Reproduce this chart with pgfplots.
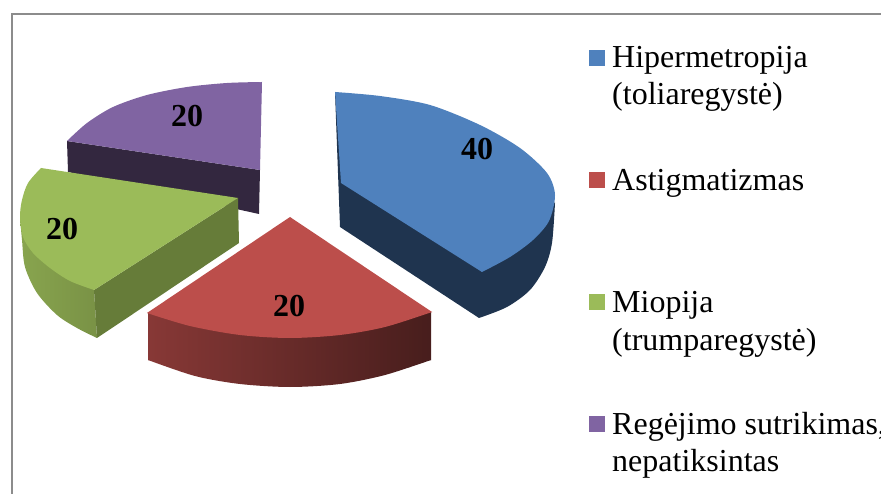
\documentclass[border=0pt]{standalone}
\usepackage{fontspec}
\setmainfont{Liberation Serif}
\usepackage{pgfplots}
\pgfplotsset{compat=1.18}
\definecolor{blueT}{HTML}{4F81BD}
\definecolor{blueS}{HTML}{1F344F}
\definecolor{redT}{HTML}{BC4E4B}
\definecolor{greenT}{HTML}{9BBB59}
\definecolor{greenS}{HTML}{667C39}
\definecolor{purpleT}{HTML}{8064A2}
\definecolor{purpleS}{HTML}{33273F}
\definecolor{framec}{HTML}{8C8C8C}
\newcommand{\lgd}{\fontsize{32}{38}\selectfont}
\newcommand{\val}{\fontsize{32}{32}\selectfont\bfseries}
\begin{document}
\begin{tikzpicture}
\clip (0,0) rectangle (881pt,494pt);
\path[use as bounding box] (0,0) rectangle (881pt,494pt);
\begin{axis}[
  at={(0,0)}, anchor=south west,
  scale only axis, width=881pt, height=494pt,
  xmin=0, xmax=881, ymin=0, ymax=494,
  y dir=reverse, hide axis, no markers,
]
% frame
\addplot[framec, line width=2pt] coordinates {(11.5,494) (11.5,14) (881,14)};

% purple: side, then top (arc closed on its chord + polygon overlapping it)
\addplot[fill=purpleS, draw=none] coordinates {(67,141) (260,170) (259,214) (68,172)};
\addplot[fill=purpleT, draw=none, smooth] coordinates {(67,141) (87,123) (113,107) (147,95) (187,87) (227,83) (262,82)};
\addplot[fill=purpleT, draw=none] coordinates {(67,141) (150,102) (262,82) (260,170)};

% blue
\addplot[fill=blueS, draw=none, smooth] coordinates {(479,318) (507,307) (530,290) (545,267) (552,243) (555,203)};
\addplot[fill=blueS, draw=none] coordinates {(335,92) (340,227) (479,318) (525,272) (555,203)};
\addplot[fill=blueT, draw=none, smooth] coordinates {(335,92) (380,96) (430,105) (480,125) (520,148) (547,173) (555,195) (549,221) (533,240) (510,257) (482,272)};
\addplot[fill=blueT, draw=none] coordinates {(335,92) (430,115) (510,190) (482,272) (341,183)};

% green
\addplot[left color=greenT!88!black, right color=greenT!78!black, draw=none, smooth] coordinates {(20,217) (22,240) (25,267) (37,293) (57,315) (77,328) (97,338)};
\addplot[left color=greenT!88!black, right color=greenT!78!black, draw=none] coordinates {(20,217) (40,282) (97,338) (94,290)};
\addplot[fill=greenS, draw=none] coordinates {(238,198) (239,243) (97,338) (94,290)};
\addplot[fill=greenT, draw=none, smooth] coordinates {(41,168) (28,183) (22,200) (20,217) (23,237) (33,253) (50,268) (70,281) (94,290)};
\addplot[fill=greenT, draw=none] coordinates {(41,168) (40,240) (94,290) (238,198)};

% red
\addplot[left color=redT!72!black, middle color=redT!55!black, right color=redT!38!black, draw=none, smooth] coordinates {(148,360) (195,376) (240,384) (290,387) (340,384) (385,375) (431,360)};
\addplot[left color=redT!72!black, middle color=redT!55!black, right color=redT!38!black, draw=none] coordinates {(148,313) (148,360) (290,378) (431,360) (431,312)};
\addplot[fill=redT, draw=none, smooth] coordinates {(147,313) (190,326) (240,335) (290,338) (340,335) (385,327) (432,312)};
\addplot[fill=redT, draw=none] coordinates {(290,217) (432,312) (290,328) (147,313)};

% legend keys
\addplot[fill=blueT, draw=none] coordinates {(589,50) (605,50) (605,66) (589,66)};
\addplot[fill=redT, draw=none] coordinates {(589,172) (605,172) (605,188) (589,188)};
\addplot[fill=greenT, draw=none] coordinates {(589,294) (605,294) (605,310) (589,310)};
\addplot[fill=purpleT, draw=none] coordinates {(589,416) (605,416) (605,432) (589,432)};

% values
\node[font=\val] at (axis cs:187,116) {20};
\node[font=\val] at (axis cs:477,149) {40};
\node[font=\val] at (axis cs:62,229) {20};
\node[font=\val] at (axis cs:289,306) {20};

% legend text
\node[font=\lgd, anchor=base west, inner sep=0pt] at (axis cs:612,68) {Hipermetropija};
\node[font=\lgd, anchor=base west, inner sep=0pt] at (axis cs:612,105) {(toliaregystė)};
\node[font=\lgd, anchor=base west, inner sep=0pt] at (axis cs:612,191) {Astigmatizmas};
\node[font=\lgd, anchor=base west, inner sep=0pt] at (axis cs:612,313) {Miopija};
\node[font=\lgd, anchor=base west, inner sep=0pt] at (axis cs:612,350) {(trumparegystė)};
\node[font=\lgd, anchor=base west, inner sep=0pt] at (axis cs:612,434) {Regėjimo sutrikimas,};
\node[font=\lgd, anchor=base west, inner sep=0pt] at (axis cs:612,471) {nepatiksintas};
\end{axis}
\end{tikzpicture}
\end{document}
